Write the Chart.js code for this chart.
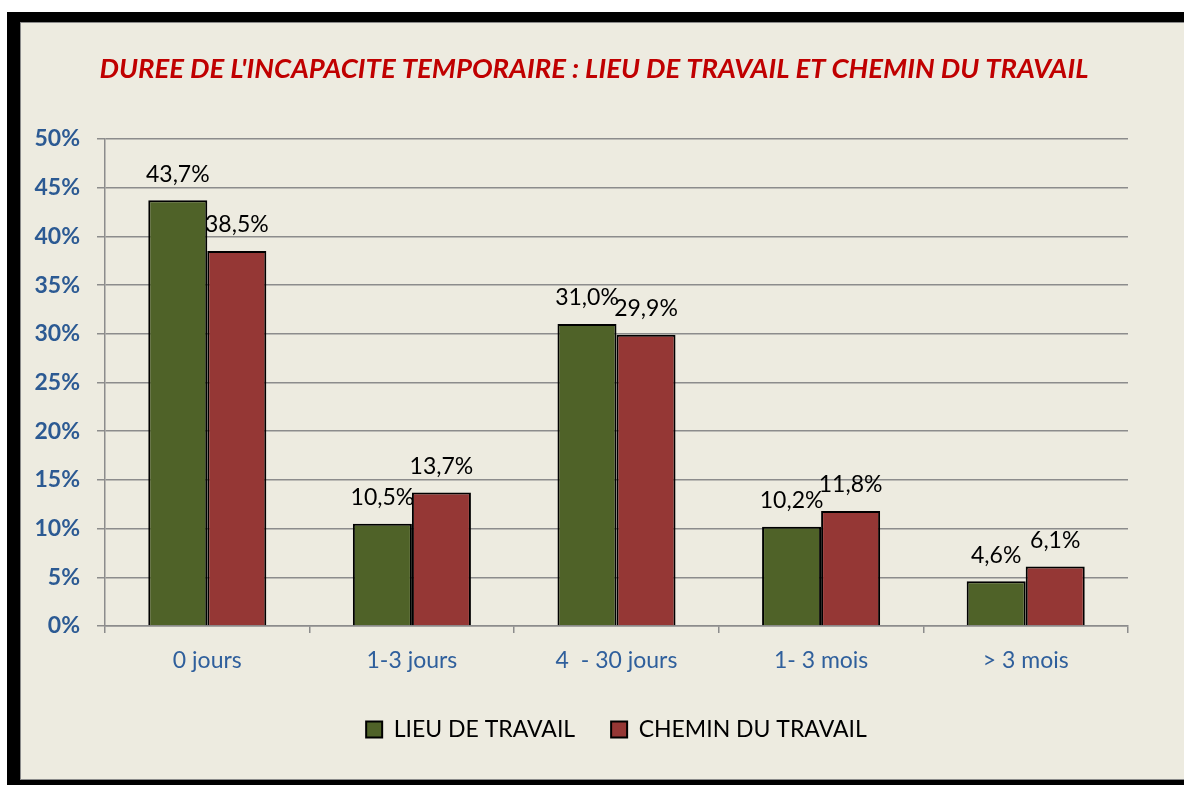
<!DOCTYPE html>
<html>
<head>
<meta charset="utf-8">
<script src="https://cdn.jsdelivr.net/npm/chart.js@4.4.1/dist/chart.umd.min.js"></script>
<style>
html,body{margin:0;padding:0;background:#fff;overflow:hidden;width:1184px;height:785px;position:relative;}
#frame{position:absolute;left:7px;top:12px;width:1200px;height:758px;border-left:13px solid #000;border-top:10px solid #000;border-bottom:10px solid #000;background:#EDEBE0;}
#inner{position:absolute;left:0;top:0;right:0;bottom:0;border-left:1px solid #8a8a8a;border-top:1px solid #8a8a8a;border-bottom:1px solid #8a8a8a;}
#wrap{position:absolute;left:0;top:0;width:1184px;height:785px;}
</style>
</head>
<body>
<div id="frame"><div id="inner"></div></div>
<div id="wrap"><canvas id="c" width="1184" height="785"></canvas></div>
<script>
const titleText = "DUREE DE L'INCAPACITE TEMPORAIRE : LIEU DE TRAVAIL ET CHEMIN DU TRAVAIL";
const categories = ['0 jours', '1-3 jours', '4  - 30 jours', '1- 3 mois', '> 3 mois'];
const seriesNames = ['LIEU DE TRAVAIL', 'CHEMIN DU TRAVAIL'];
const lieuDeTravail = [43.7, 10.5, 31.0, 10.2, 4.6];
const cheminDuTravail = [38.5, 13.7, 29.9, 11.8, 6.1];
const yMin = 0, yMax = 50, yStep = 5;

const FONT = 'Lato, "Open Sans", sans-serif';

const dataLabels = {
  id: 'dataLabels',
  afterDatasetsDraw(chart) {
    const ctx = chart.ctx;
    ctx.save();
    ctx.font = '23px ' + FONT;
    ctx.fillStyle = '#000';
    ctx.textAlign = 'center';
    ctx.textBaseline = 'middle';
    chart.data.datasets.forEach((ds, di) => {
      const meta = chart.getDatasetMeta(di);
      meta.data.forEach((el, i) => {
        const txt = ds.data[i].toFixed(1).replace('.', ',') + '%';
        ctx.fillText(txt, el.x, el.y - 26);
      });
    });
    ctx.restore();
  }
};

const shiftTitle = {
  id: 'shiftTitle',
  afterLayout(chart) {
    if (chart.titleBlock) chart.titleBlock.left += 40;
  }
};

new Chart(document.getElementById('c'), {
  type: 'bar',
  data: {
    labels: categories,
    datasets: [
      { label: seriesNames[0], data: lieuDeTravail, backgroundColor: '#4F6228', borderColor: '#000', borderWidth: 2, categoryPercentage: 0.577, barPercentage: 1 },
      { label: seriesNames[1], data: cheminDuTravail, backgroundColor: '#953735', borderColor: '#000', borderWidth: 2, categoryPercentage: 0.577, barPercentage: 1 }
    ]
  },
  options: {
    responsive: false,
    animation: false,
    layout: { padding: { left: 20, right: 56, top: 40, bottom: 34 } },
    plugins: {
      title: {
        display: true, text: titleText, color: '#C00000',
        font: { family: FONT, size: 27.5, weight: 'bold', style: 'italic' },
        padding: { top: 13, bottom: 53 }
      },
      legend: {
        position: 'bottom', fullSize: false,
        labels: { color: '#000', font: { family: FONT, size: 23 }, boxWidth: 16, boxHeight: 16, padding: 36 }
      },
      tooltip: { enabled: false }
    },
    scales: {
      x: {
        grid: { offset: true, drawOnChartArea: false, drawTicks: true, tickLength: 7, color: '#8c8c8c', lineWidth: 1.5 },
        border: { color: '#8c8c8c', width: 1.5 },
        ticks: { color: '#2F5F9C', font: { family: FONT, size: 23 }, padding: 14 },
        afterFit(s) { s.height = 56; }
      },
      y: {
        min: yMin, max: yMax,
        ticks: { stepSize: yStep, callback: v => v + '%', color: '#2C5A93', font: { family: FONT, size: 23, weight: 'bold' }, padding: 17 },
        grid: { color: '#8c8c8c', lineWidth: 1.5, tickLength: 8 },
        border: { color: '#8c8c8c', width: 1.5 },
        afterFit(s) { s.width = 85; }
      }
    }
  },
  plugins: [dataLabels, shiftTitle]
});
</script>
</body>
</html>
